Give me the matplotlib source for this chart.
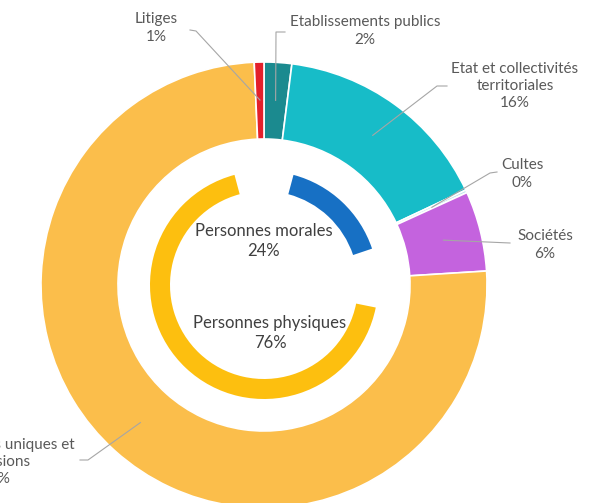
import numpy as np
import matplotlib
matplotlib.use("Agg")
import matplotlib.pyplot as plt
from matplotlib.patches import Wedge

# outer ring, clockwise from 12 o'clock
outer_labels = ["Etablissements publics", "Etat et collectivités\nterritoriales",
                "Cultes", "Sociétés", "Propriétaires uniques et\nindivisions", "Litiges"]
outer_values = [2.0, 16.0, 0.2, 5.8, 75.3, 0.7]
outer_colors = ["#1B8A8F", "#17BCC8", "#BFE6EC", "#C463DE", "#FBBE4B", "#E3202B"]

# inner ring
inner_labels = ["Personnes morales", "Personnes physiques"]
inner_values = [24, 76]
inner_colors = ["#1770C4", "#FDBF0F"]

W, H = 604, 503
fig = plt.figure(figsize=(W / 100, H / 100), dpi=100)
ax = fig.add_axes([0, 0, 1, 1])

plt.rcParams["font.family"] = ["Lato", "DejaVu Sans"]
txt_color = "#595959"
line_color = "#A6A6A6"

cx, cy = 264, H - 285


def py(y):
    return H - y


# outer donut
ax.pie(outer_values, colors=outer_colors, startangle=90, counterclock=False,
       center=(cx, cy), radius=223, frame=True,
       wedgeprops=dict(width=77, edgecolor="white", linewidth=1.2))
ax.set_xlim(0, W)
ax.set_ylim(0, H)
ax.set_aspect("equal")
ax.axis("off")

# inner ring with gaps
gap = 15
total = sum(inner_values)
start = 0
for v, c in zip(inner_values, inner_colors):
    a0 = start * 360 / total
    a1 = (start + v) * 360 / total
    ax.add_patch(Wedge((cx, cy), 114, 90 - (a1 - gap), 90 - (a0 + gap),
                       width=20, facecolor=c, edgecolor="none"))
    start += v

# centre labels
inner_pos = [(264, 241), (270, 333)]
for lab, v, (x, y) in zip(inner_labels, inner_values, inner_pos):
    ax.text(x, py(y), f"{lab}\n{v}%", ha="center", va="center",
            fontsize=12, color="#404040", linespacing=1.3)

# outer labels with leader lines
text_pos = [(365, 31), (515, 86), (522, 174), (545, 245), (-5, 462), (156, 28)]
elbows = [[(285, 32), (276, 32)], [(447, 86), (437, 86)], [(497, 172), (490, 173)],
          [(510, 243)], [(80, 460), (88, 460)], [(190, 30), (196, 31)]]
total = sum(outer_values)
start = 0
for lab, v, (x, y), pts in zip(outer_labels, outer_values, text_pos, elbows):
    mid = np.radians((start + v / 2) * 360 / total)
    start += v
    ex, ey = cx + 185 * np.sin(mid), cy + 185 * np.cos(mid)
    xs = [p[0] for p in pts] + [ex]
    ys = [py(p[1]) for p in pts] + [ey]
    ax.plot(xs, ys, color=line_color, lw=0.8)
    ax.text(x, py(y), f"{lab}\n{round(v):.0f}%", ha="center", va="center",
            fontsize=11, color=txt_color, linespacing=1.3)

fig.savefig("out.png", dpi=100)
